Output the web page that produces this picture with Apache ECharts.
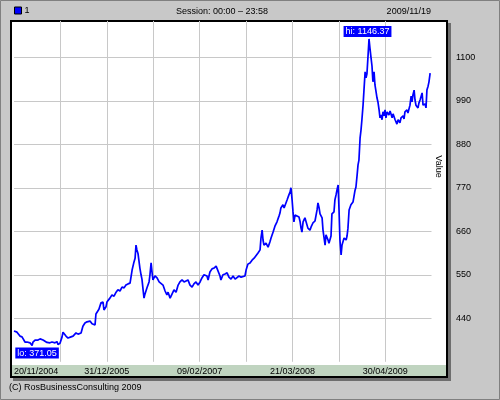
<!DOCTYPE html>
<html>
<head>
<meta charset="utf-8">
<script src="https://cdn.jsdelivr.net/npm/echarts@6.0.0/dist/echarts.min.js"></script>
<style>
  html, body { margin: 0; padding: 0; background: #c8c8c8; }
  #chart { width: 500px; height: 400px; }
</style>
</head>
<body>
<div id="chart"></div>
<script>
// days counted from 20/11/2004
var days = [
  0,13,17,26,35,39,48,57,61,70,79,83,92,100,105,114,122,127,135,144,
  149,157,166,170,179,188,192,201,210,214,218,227,236,240,249,258,262,271,280,284,
  293,301,310,319,323,332,341,345,354,358,363,371,380,389,393,402,406,411,
  419,428,437,446,454,463,472,481,489,498,507,
  516,524,529,533,537,542,550,555,559,564,568,572,581,590,594,599,603,607,616,625,
  634,642,651,660,668,673,682,686,690,699,708,717,725,734,743,751,760,769,778,786,
  795,804,813,821,830,834,843,848,856,865,874,883,891,900,904,913,922,931,939,948,
  957,966,974,983,992,1000,1009,1014,1022,1031,1040,1049,1057,1066,1075,1079,1084,1088,1092,1101,
  1110,1118,1123,1132,1140,1149,1158,1162,
  1166,1175,1180,1184,1193,1201,1206,1210,1215,1219,1223,1228,1236,1245,1250,1254,1258,1263,1271,1276,
  1284,1293,1298,1306,1315,1319,1324,1328,1333,1337,1346,1350,1359,1363,1372,1376,1385,1389,1398,1402,
  1407,1411,1416,1420,1424,1429,1433,1442,1451,1455,1459,1464,1472,1481,1485,1490,1494,1499,1503,1507,
  1512,1516,1520,1525,1529,1534,1538,1542,1547,1551,1555,1560,1564,1568,1573,1577,1582,1586,1590,1595,
  1599,1603,1608,1612,1617,1621,1625,1630,1638,1643,1652,1656,1665,1673,1678,1686,1691,1700,1704,1708,
  1717,1721,1730,1735,1739,1743,1748,1752,1756,1765,1769,1774,1778,1783,1787,1796,1800,1804,1809,1813,
  1818
];
var prices = [
  408,405,400,395,393,388,380,380,385,378,371.05,380,385,380,385,388,383,385,380,379,
  383,378,380,377,378,381,374,377,393,405,403,395,390,388,393,395,400,403,400,405,
  403,420,428,431,428,433,426,425,423,451,453,463,479,481,461,469,481,486,
  491,499,496,506,512,509,519,517,524,527,529,
  562,582,592,625,613,603,567,550,539,512,491,501,517,532,550,580,557,537,547,542,
  532,527,524,509,499,506,491,486,496,512,506,524,532,537,532,529,537,524,519,527,
  532,524,532,542,550,555,547,537,557,565,567,572,567,547,537,550,552,555,544,539,
  547,539,542,547,544,539,547,562,577,580,587,592,592,605,613,643,663,638,625,630,
  620,633,643,658,673,684,699,706,
  719,727,719,714,739,752,759,770,739,709,684,701,706,696,684,668,658,684,694,684,
  668,663,671,681,686,689,714,732,719,704,694,663,625,651,638,630,648,704,709,739,
  752,764,777,714,638,600,625,643,638,648,668,714,727,734,747,764,772,802,828,840,
  896,916,942,979,1017,1063,1048,1058,1106,1146.37,1124,1098,1078,1038,1063,1030,1012,997,987,967,
  947,954,942,962,952,967,947,962,954,964,947,957,942,931,942,934,947,952,944,962,
  967,959,979,1002,987,1005,1017,992,979,972,984,992,997,1010,979,982,972,1017,1027,1038,
  1060
];
var xTickLabels = ['20/11/2004', '', '31/12/2005', '', '09/02/2007', '', '21/03/2008', '', '30/04/2009'];
var xStep = 202.75;
var yMin = 330, yMax = 1192, yStep = 110;

var FONT = '"Liberation Sans", Arial, sans-serif';

var hiIdx = prices.indexOf(Math.max.apply(null, prices));
var loIdx = prices.indexOf(Math.min.apply(null, prices));

var chart = echarts.init(document.getElementById('chart'));
chart.setOption({
  animation: false,
  backgroundColor: '#c8c8c8',
  textStyle: { fontFamily: FONT },
  legend: {
    data: [{ name: '1', icon: 'rect' }],
    left: 14, top: 6, padding: 0,
    itemWidth: 7, itemHeight: 7,
    selectedMode: false,
    itemStyle: { color: '#0000ff', borderColor: '#000', borderWidth: 1 },
    textStyle: { fontSize: 9, color: '#000', fontFamily: FONT, padding: [0, 0, 0, -2] }
  },
  grid: { left: 14, right: 68.5, top: 20.9, bottom: 38.2 },
  xAxis: {
    type: 'value', min: 0, max: 1824, interval: xStep,
    axisLine: { show: false }, axisTick: { show: false },
    axisLabel: {
      fontSize: 9, color: '#000', margin: 5,
      alignMinLabel: 'left', showMaxLabel: false,
      formatter: function (v) { return xTickLabels[Math.round(v / xStep)] || ''; }
    },
    splitLine: { show: true, showMinLine: false, showMaxLine: false, lineStyle: { color: '#c8c8c8', width: 1 } }
  },
  yAxis: {
    type: 'value', position: 'right', min: yMin, max: yMax, interval: yStep,
    axisLine: { show: false }, axisTick: { show: false },
    axisLabel: {
      fontSize: 9, color: '#000', margin: 24.5, showMinLabel: false, showMaxLabel: false,
      formatter: function (v) { return String(v); }
    },
    splitLine: { show: true, showMinLine: false, showMaxLine: false, lineStyle: { color: '#c8c8c8', width: 1 } }
  },
  series: [{
    name: '1',
    type: 'line',
    data: days.map(function (d, i) { return [d, prices[i]]; }),
    showSymbol: false, symbol: 'none',
    lineStyle: { color: '#0000ff', width: 1.7 },
    itemStyle: { color: '#0000ff' },
    markPoint: {
      symbol: 'circle', symbolSize: 0,
      label: {
        show: true, color: '#fff', backgroundColor: '#0000ff',
        fontSize: 9, fontFamily: FONT, lineHeight: 10, padding: [1, 2, 0, 2]
      },
      data: [
        { coord: [days[hiIdx], prices[hiIdx]], value: prices[hiIdx].toFixed(2),
          label: { formatter: 'hi: {c}', position: 'top', distance: 2, offset: [-1.5, 0] } },
        { coord: [days[loIdx], prices[loIdx]], value: prices[loIdx].toFixed(2),
          label: { formatter: 'lo: {c}', position: 'bottom', distance: 2, offset: [5, 0] } }
      ]
    }
  }],
  graphic: [
    { type: 'rect', z: -5, shape: { x: 0.5, y: 0.5, width: 499, height: 399 },
      style: { fill: 'none', stroke: '#808080', lineWidth: 1 } },
    { type: 'rect', z: -5, shape: { x: 13, y: 23, width: 438, height: 358 }, style: { fill: '#6e6e6e' } },
    { type: 'rect', z: -4, shape: { x: 11, y: 21, width: 436, height: 356 },
      style: { fill: '#fff', stroke: '#000', lineWidth: 2 } },
    { type: 'rect', z: -3, shape: { x: 12, y: 365, width: 434, height: 11 }, style: { fill: '#c0d4c0' } },
    { type: 'text', x: 222, y: 12,
      style: { text: 'Session: 00:00 \u2013 23:58', font: '9px ' + FONT, fill: '#000', align: 'center', verticalAlign: 'middle' } },
    { type: 'text', x: 431, y: 12,
      style: { text: '2009/11/19', font: '9px ' + FONT, fill: '#000', align: 'right', verticalAlign: 'middle' } },
    { type: 'text', x: 9, y: 388,
      style: { text: '(C) RosBusinessConsulting 2009', font: '9px ' + FONT, fill: '#000', align: 'left', verticalAlign: 'middle' } },
    { type: 'text', x: 438, y: 166.5, rotation: -Math.PI / 2,
      style: { text: 'Value', font: '9px ' + FONT, fill: '#000', align: 'center', verticalAlign: 'middle' } }
  ]
});
</script>
</body>
</html>
